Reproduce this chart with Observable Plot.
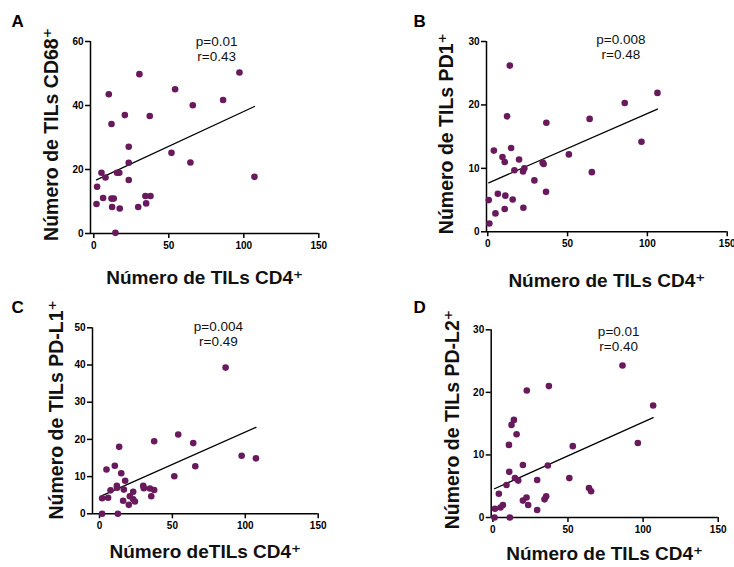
<!DOCTYPE html>
<html>
<head>
<meta charset="utf-8">
<script src="https://cdn.jsdelivr.net/npm/d3@7"></script>
<script src="https://cdn.jsdelivr.net/npm/@observablehq/plot@0.6"></script>
<style>
  html, body { margin: 0; padding: 0; background: #fff; }
  #fig { position: relative; width: 734px; height: 567px; overflow: hidden; }
  #fig svg { position: absolute; }
</style>
</head>
<body>
<div id="fig"></div>
<script>
// CD4+ TIL counts (x) against each marker (y), one pair of arrays per panel
const cd4A = [2.2, 1.8, 5.1, 6.2, 7.8, 10.0, 11.8, 11.8, 13.3, 12.2, 14.4, 15.5, 17.0, 17.3, 20.7, 23.3, 23.3, 23.3, 29.6, 30.4, 34.9, 34.4, 37.8, 37.3, 51.8, 54.2, 64.4, 66.0, 86.2, 97.1, 107.1];
const cd68 = [14.6, 9.2, 19.0, 11.1, 17.5, 43.5, 34.2, 10.9, 10.9, 8.3, 0.2, 19.0, 19.0, 7.8, 37.0, 27.1, 22.1, 16.7, 8.3, 49.8, 9.4, 11.7, 11.7, 36.7, 25.2, 45.1, 22.2, 40.1, 41.7, 50.3, 17.7];

const cd4B = [0.6, 1.0, 3.8, 4.8, 6.3, 9.2, 10.6, 11.0, 10.6, 12.1, 13.8, 14.6, 15.6, 16.7, 19.6, 22.1, 22.9, 22.3, 29.2, 34.4, 35.0, 36.5, 36.7, 50.8, 63.8, 65.2, 85.8, 96.3, 106.3];
const pd1 = [5.0, 1.3, 12.8, 2.9, 6.0, 11.8, 11.0, 5.7, 3.6, 18.2, 26.2, 13.2, 5.1, 9.7, 11.4, 9.5, 10.0, 3.8, 8.1, 10.9, 10.7, 6.3, 17.2, 12.2, 17.8, 9.4, 20.3, 14.2, 21.9];

const cd4C = [1.8, 1.8, 4.8, 5.9, 7.6, 10.5, 11.9, 12.1, 12.6, 13.5, 14.9, 16.2, 16.7, 17.6, 20.1, 20.8, 23.1, 23.1, 24.3, 30.0, 30.4, 34.6, 35.5, 37.5, 37.5, 51.3, 54.0, 64.3, 65.7, 86.5, 97.5, 107.3];
const pdl1 = [0, 4.2, 11.9, 4.3, 6.3, 12.9, 7.5, 7.0, 0, 18.0, 10.9, 3.5, 6.5, 8.9, 2.4, 4.7, 5.9, 3.9, 3.3, 7.5, 6.9, 6.8, 4.7, 6.4, 19.5, 10.1, 21.3, 19.0, 12.8, 39.3, 15.6, 14.9];

const cd4D = [1.1, 1.4, 4.0, 5.1, 6.7, 9.1, 10.7, 10.9, 11.3, 12.4, 14.0, 14.7, 15.8, 16.9, 20.0, 20.0, 22.4, 22.6, 23.5, 29.5, 29.5, 34.4, 35.5, 36.6, 37.3, 50.9, 53.2, 64.0, 65.4, 86.3, 96.5, 106.7];
const pdl2 = [0, 1.4, 3.8, 1.6, 2.0, 5.2, 11.6, 7.3, 0, 14.8, 15.6, 6.3, 13.3, 5.9, 8.4, 2.7, 3.2, 20.3, 2.0, 6.0, 1.2, 2.9, 3.4, 8.3, 21.0, 6.3, 11.4, 4.7, 4.2, 24.3, 11.9, 17.9];

// linear fits (intercept, slope) and correlation statistics per panel
const fitIntercept = [16.35, 7.66, 4.58, 4.48];
const fitSlope = [0.218, 0.110, 0.174, 0.1077];
const pValues = ["p=0.01", "p=0.008", "p=0.004", "p=0.01"];
const rValues = ["r=0.43", "r=0.48", "r=0.49", "r=0.40"];

const letters = ["A", "B", "C", "D"];
const yLabels = ["Número de TILs CD68⁺", "Número de TILs PD1⁺", "Número de TILs PD-L1⁺", "Número de TILs PD-L2⁺"];
const xLabels = ["Número de TILs CD4⁺", "Número de TILs CD4⁺", "Número deTILs CD4⁺", "Número de TILs CD4⁺"];
const xTicks = [0, 50, 100, 150];
const yTickSets = [[0, 20, 40, 60], [0, 10, 20, 30], [0, 10, 20, 30, 40, 50], [0, 10, 20, 30]];

const xs = [cd4A, cd4B, cd4C, cd4D];
const ys = [cd68, pd1, pdl1, pdl2];

// page layout of the four panels
const layout = [
  {left: 0,   top: 0,   width: 367, height: 290, mt: 41,   mr: 48.7, mb: 57,   ml: 90,    xMin: -2.2, titleDx: -33, titleShift: -3,  titleDy: 50, statDx: 12, statDy: -6},
  {left: 367, top: 0,   width: 367, height: 290, mt: 41,   mr: 7.3,  mb: 58.7, ml: 119,   xMin: -0.8, titleDx: -34, titleShift: -3,  titleDy: 55, statDx: 14, statDy: -8},
  {left: 0,   top: 290, width: 367, height: 277, mt: 37.3, mr: 49.3, mb: 53.7, ml: 92,    xMin: -4.8, titleDx: -30, titleShift: -11, titleDy: 44, statDx: 13, statDy: -7},
  {left: 367, top: 290, width: 367, height: 277, mt: 39.3, mr: 16.3, mb: 50,   ml: 123.7, xMin: -1.1, titleDx: -32, titleShift: -4,  titleDy: 42, statDx: 14, statDy: -4}
];

const font = "'Liberation Sans', Arial, 'DejaVu Sans', sans-serif";
const dotColor = "#681a5c";
const fig = document.getElementById("fig");

layout.forEach((L, i) => {
  const pts = xs[i].map((x, j) => ({x, y: ys[i][j]}));
  const yTicks = yTickSets[i];
  const yMax = yTicks[yTicks.length - 1];
  const fit = d3.extent(xs[i]).map(x => ({x, y: fitIntercept[i] + fitSlope[i] * x}));

  const chart = Plot.plot({
    width: L.width,
    height: L.height,
    marginTop: L.mt,
    marginRight: L.mr,
    marginBottom: L.mb,
    marginLeft: L.ml,
    style: {fontFamily: font, overflow: "visible", background: "transparent"},
    x: {domain: [L.xMin, 150]},
    y: {domain: [0, yMax]},
    marks: [
      Plot.ruleX([L.xMin], {stroke: "#000", strokeWidth: 1.5}),
      Plot.ruleY([0], {stroke: "#000", strokeWidth: 1.5}),
      Plot.axisX(xTicks, {tickSize: 5, tickPadding: 3, fontSize: 10, fontWeight: "bold", strokeWidth: 1.5, label: null, fill: "#000"}),
      Plot.axisY(yTicks, {tickSize: 5, tickPadding: 2, fontSize: 10, fontWeight: "bold", strokeWidth: 1.5, label: null, fill: "#000"}),
      Plot.line(fit, {x: "x", y: "y", stroke: "#000", strokeWidth: 1.3}),
      Plot.dot(pts, {x: "x", y: "y", r: 3.3, fill: dotColor, stroke: "none"}),
      Plot.text([yLabels[i]], {frameAnchor: "left", rotate: -90, dx: L.titleDx, dy: L.titleShift, lineAnchor: "bottom", textAnchor: "middle", fontSize: 19.5, fontWeight: "bold", fill: "#111"}),
      Plot.text([xLabels[i]], {frameAnchor: "bottom", dy: L.titleDy, lineAnchor: "bottom", textAnchor: "middle", fontSize: 19, fontWeight: "bold", fill: "#111"}),
      Plot.text([pValues[i] + "\n" + rValues[i]], {frameAnchor: "top", dx: L.statDx, dy: L.statDy, lineAnchor: "top", textAnchor: "middle", fontSize: 13.5, lineHeight: 1.1, fill: "#111"}),
      Plot.text([letters[i]], {frameAnchor: "top-left", dx: (i % 2 ? 413 - 367 : 11) - L.ml, dy: (i < 2 ? 26 : 312 - 290) - L.mt, lineAnchor: "bottom", textAnchor: "start", fontSize: 17, fontWeight: "bold", fill: "#000"})
    ]
  });
  chart.style.left = L.left + "px";
  chart.style.top = L.top + "px";
  fig.appendChild(chart);
});
</script>
</body>
</html>
